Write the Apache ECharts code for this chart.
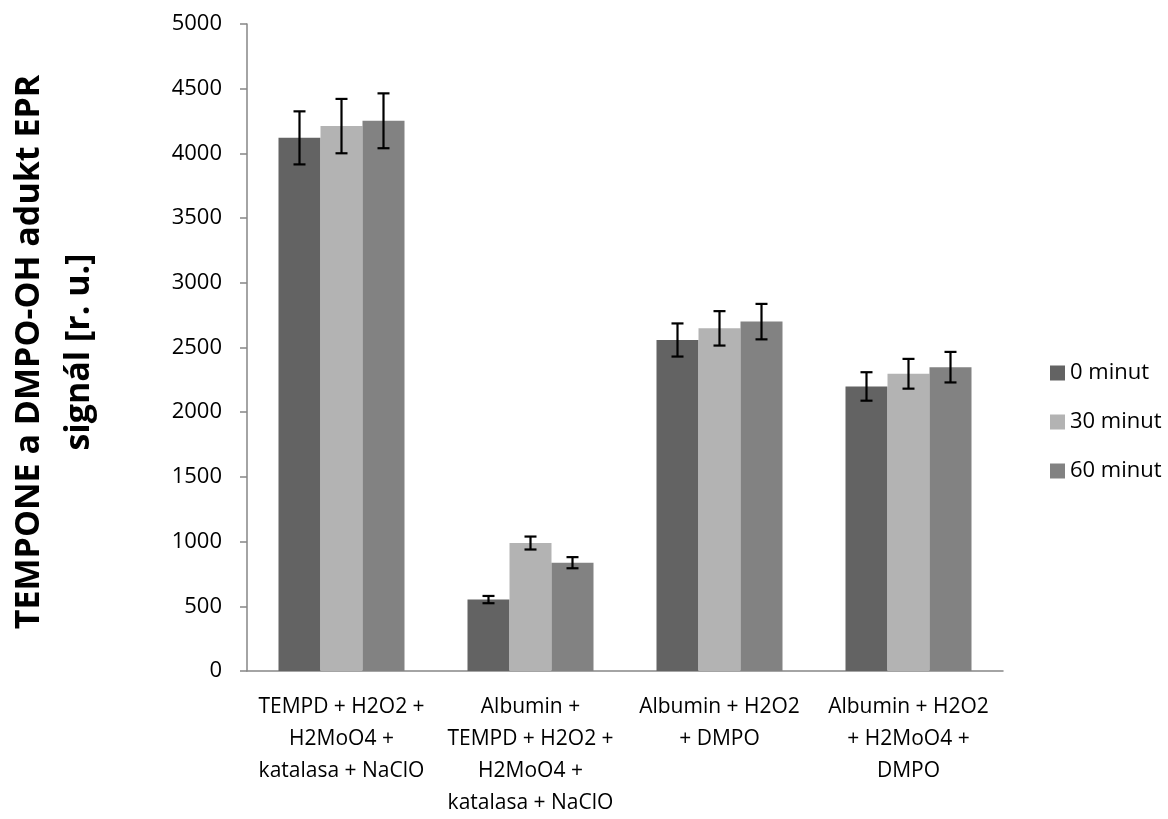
<!DOCTYPE html>
<html>
<head>
<meta charset="utf-8">
<script src="https://cdn.jsdelivr.net/npm/echarts@6/dist/echarts.min.js"></script>
<style>
  html, body { margin: 0; padding: 0; background: #fff; }
  #chart { width: 1168px; height: 819px; }
</style>
</head>
<body>
<div id="chart"></div>
<script>
// kategorie (osa x)
var categories = [
  'TEMPD + H2O2 +\nH2MoO4 +\nkatalasa + NaClO',
  'Albumin +\nTEMPD + H2O2 +\nH2MoO4 +\nkatalasa + NaClO',
  'Albumin + H2O2\n+ DMPO',
  'Albumin + H2O2\n+ H2MoO4 +\nDMPO'
];
var seriesNames = ['0 minut', '30 minut', '60 minut'];

// hodnoty signálu
var min0 = [4120, 552, 2558, 2199];
var min30 = [4211, 989, 2648, 2297];
var min60 = [4252, 837, 2700, 2348];

// chybové úsečky (+/-)
var err0 = [205, 28, 128, 110];
var err30 = [210, 50, 133, 115];
var err60 = [212, 43, 137, 118];

var yTicks = [0, 500, 1000, 1500, 2000, 2500, 3000, 3500, 4000, 4500, 5000];

var colors = ['#636363', '#b3b3b3', '#828282'];
var BAR_W = 42;
var FONT = '"Open Sans", "Noto Sans", sans-serif';

var chart = echarts.init(document.getElementById('chart'));

function errData(vals, errs) {
  var out = [];
  for (var i = 0; i < vals.length; i++) {
    out.push([i, vals[i] - errs[i], vals[i] + errs[i]]);
  }
  return out;
}

function errSeries(vals, errs, offset) {
  return {
    type: 'custom',
    z: 10,
    silent: true,
    encode: { x: 0, y: [1, 2] },
    data: errData(vals, errs),
    renderItem: function (params, api) {
      var c = api.value(0);
      var lo = api.coord([c, api.value(1)]);
      var hi = api.coord([c, api.value(2)]);
      var x = lo[0] + offset;
      var cap = 6;
      var st = { stroke: '#000', lineWidth: 2.2 };
      return {
        type: 'group',
        children: [
          { type: 'line', shape: { x1: x, y1: lo[1], x2: x, y2: hi[1] }, style: st },
          { type: 'line', shape: { x1: x - cap, y1: hi[1], x2: x + cap, y2: hi[1] }, style: st },
          { type: 'line', shape: { x1: x - cap, y1: lo[1], x2: x + cap, y2: lo[1] }, style: st }
        ]
      };
    }
  };
}

function barSeries(name, vals, idx) {
  return {
    name: name,
    type: 'bar',
    data: vals,
    barWidth: BAR_W,
    barGap: '0%',
    itemStyle: { color: colors[idx] }
  };
}

var option = {
  animation: false,
  backgroundColor: '#fff',
  grid: { left: 247, right: 165, top: 24, bottom: 145 },
  legend: {
    orient: 'vertical',
    left: 1045,
    top: 356,
    icon: 'rect',
    itemWidth: 15,
    itemHeight: 15,
    itemGap: 25,
    data: seriesNames,
    textStyle: { fontFamily: FONT, fontSize: 22, color: '#000', lineHeight: 24 }
  },
  xAxis: {
    type: 'category',
    data: categories,
    axisLine: { lineStyle: { color: '#868686', width: 1.5 } },
    axisTick: { show: false },
    axisLabel: {
      interval: 0,
      margin: 20,
      fontFamily: FONT,
      fontSize: 21,
      lineHeight: 32,
      color: '#000'
    }
  },
  yAxis: {
    type: 'value',
    min: yTicks[0],
    max: yTicks[yTicks.length - 1],
    interval: 500,
    splitLine: { show: false },
    axisLine: { show: true, lineStyle: { color: '#868686', width: 1.5 } },
    axisTick: { show: true, length: 7, lineStyle: { color: '#868686', width: 1.5 } },
    axisLabel: {
      margin: 25,
      fontFamily: FONT,
      fontSize: 22,
      color: '#000',
      formatter: function (v) { return String(v); }
    }
  },
  graphic: [{
    type: 'text',
    x: 54,
    y: 352,
    rotation: Math.PI / 2,
    style: {
      text: 'TEMPONE a DMPO-OH adukt EPR\nsignál [r. u.]',
      font: 'bold 34px ' + FONT,
      fill: '#000',
      align: 'center',
      verticalAlign: 'middle',
      lineHeight: 50
    }
  }],
  series: [
    barSeries(seriesNames[0], min0, 0),
    barSeries(seriesNames[1], min30, 1),
    barSeries(seriesNames[2], min60, 2),
    errSeries(min0, err0, -BAR_W),
    errSeries(min30, err30, 0),
    errSeries(min60, err60, BAR_W)
  ]
};

chart.setOption(option);
</script>
</body>
</html>
